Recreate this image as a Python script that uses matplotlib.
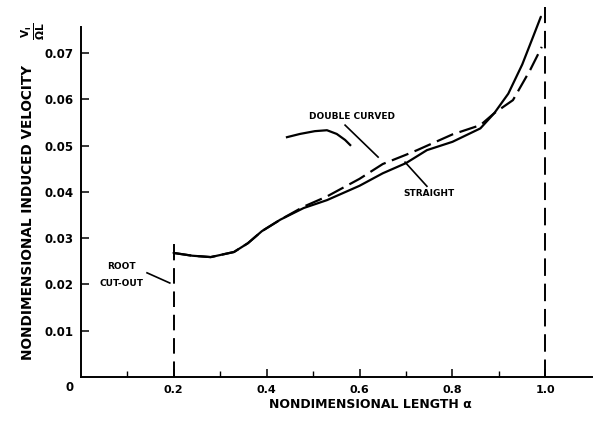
import matplotlib
matplotlib.use("Agg")
import matplotlib.pyplot as plt

# data
straight_x = [0.20, 0.24, 0.28, 0.33, 0.36, 0.39, 0.43, 0.48, 0.53, 0.60, 0.65, 0.70, 0.745, 0.80, 0.86, 0.89, 0.92, 0.95, 0.973, 0.99]
straight_y = [0.0268, 0.0262, 0.0259, 0.0270, 0.0289, 0.0315, 0.0340, 0.0365, 0.0382, 0.0413, 0.0440, 0.0462, 0.0490, 0.0508, 0.0537, 0.0570, 0.0612, 0.0675, 0.0734, 0.0778]

double_x = [0.20, 0.24, 0.28, 0.33, 0.36, 0.39, 0.43, 0.48, 0.53, 0.60, 0.65, 0.70, 0.724, 0.80, 0.86, 0.89, 0.93, 0.967, 0.992]
double_y = [0.0268, 0.0262, 0.0259, 0.0270, 0.0289, 0.0315, 0.0340, 0.0368, 0.0390, 0.0428, 0.0460, 0.0480, 0.0490, 0.0524, 0.0544, 0.0570, 0.0598, 0.0663, 0.0713]

squiggle_x = [0.444, 0.472, 0.504, 0.530, 0.551, 0.569, 0.580]
squiggle_y = [0.0518, 0.0525, 0.0531, 0.0533, 0.0525, 0.0512, 0.0501]

root_cutout_x = 0.2
tip_x = 1.0

x_ticks = [0.2, 0.4, 0.6, 0.8, 1.0]
x_ticklabels = ["0.2", "0.4", "0.6", "0.8", "1.0"]
x_minor = [0.1, 0.3, 0.5, 0.7, 0.9]
y_ticks = [0.01, 0.02, 0.03, 0.04, 0.05, 0.06, 0.07]
y_ticklabels = ["0.01", "0.02", "0.03", "0.04", "0.05", "0.06", "0.07"]

fig = plt.figure(figsize=(6.01, 4.21), dpi=100)
ax = fig.add_axes([0.134, 0.1045, 0.851, 0.8908])
ax.set_xlim(0, 1.1)
ax.set_ylim(0, 0.081)

for s in ["top", "right"]:
    ax.spines[s].set_visible(False)
ax.spines["left"].set_bounds(0, 0.0755)
ax.spines["left"].set_linewidth(1.4)
ax.spines["bottom"].set_linewidth(1.4)

lw = 1.6
ax.plot(straight_x, straight_y, color="black", lw=lw, solid_capstyle="round", solid_joinstyle="round")
ax.plot(double_x, double_y, color="black", lw=lw, dashes=(8, 3))
ax.plot(squiggle_x, squiggle_y, color="black", lw=lw, solid_joinstyle="round")

# cap at start of curves
ax.plot([root_cutout_x, root_cutout_x], [0.0262, 0.0286], color="black", lw=1.4)
# vertical dashed lines
ax.plot([root_cutout_x, root_cutout_x], [0, 0.0262], color="black", lw=1.4, dashes=(8, 4))
ax.plot([tip_x, tip_x], [0, 0.0800], color="black", lw=1.4, dashes=(9, 4))

# ticks
bold = dict(fontweight="bold", family="DejaVu Sans")
ax.set_xticks(x_ticks)
ax.set_xticklabels(x_ticklabels, fontsize=8, **bold)
ax.set_xticks(x_minor, minor=True)
ax.set_yticks(y_ticks)
ax.set_yticklabels(y_ticklabels, fontsize=8.5, **bold)
ax.tick_params(axis="x", which="major", direction="in", length=6, width=1.1, pad=6)
ax.tick_params(axis="x", which="minor", direction="in", length=4, width=1.0)
ax.tick_params(axis="y", which="major", direction="in", length=6, width=1.1, pad=5)
ax.text(-0.023, -0.0022, "0", ha="center", va="center", fontsize=8.5, **bold)

# annotations
ax.text(0.584, 0.0562, "DOUBLE CURVED", ha="center", va="center", fontsize=6.5, **bold)
ax.plot([0.569, 0.640], [0.0544, 0.0475], color="black", lw=1.2)
ax.text(0.749, 0.0397, "STRAIGHT", ha="center", va="center", fontsize=6.5, **bold)
ax.plot([0.698, 0.745], [0.0464, 0.0412], color="black", lw=1.2)
ax.text(0.089, 0.0238, "ROOT", ha="center", va="center", fontsize=6.5, **bold)
ax.text(0.089, 0.0201, "CUT-OUT", ha="center", va="center", fontsize=6.5, **bold)
ax.plot([0.143, 0.192], [0.0225, 0.0203], color="black", lw=1.2)

# axis labels
fig.text(370 / 601, 1 - 404 / 421, "NONDIMENSIONAL LENGTH \u03b1", ha="center", va="center",
         fontsize=9, **bold)
fig.text(28 / 601, 1 - 212 / 421, "NONDIMENSIONAL INDUCED VELOCITY", ha="center", va="center",
         rotation=90, fontsize=9.8, **bold)
fig.text(33 / 601, 1 - 31 / 421, r"$\mathbf{\frac{V_i}{\Omega L}}$", ha="center", va="center",
         rotation=90, fontsize=11)

fig.savefig("out.png", dpi=100)
